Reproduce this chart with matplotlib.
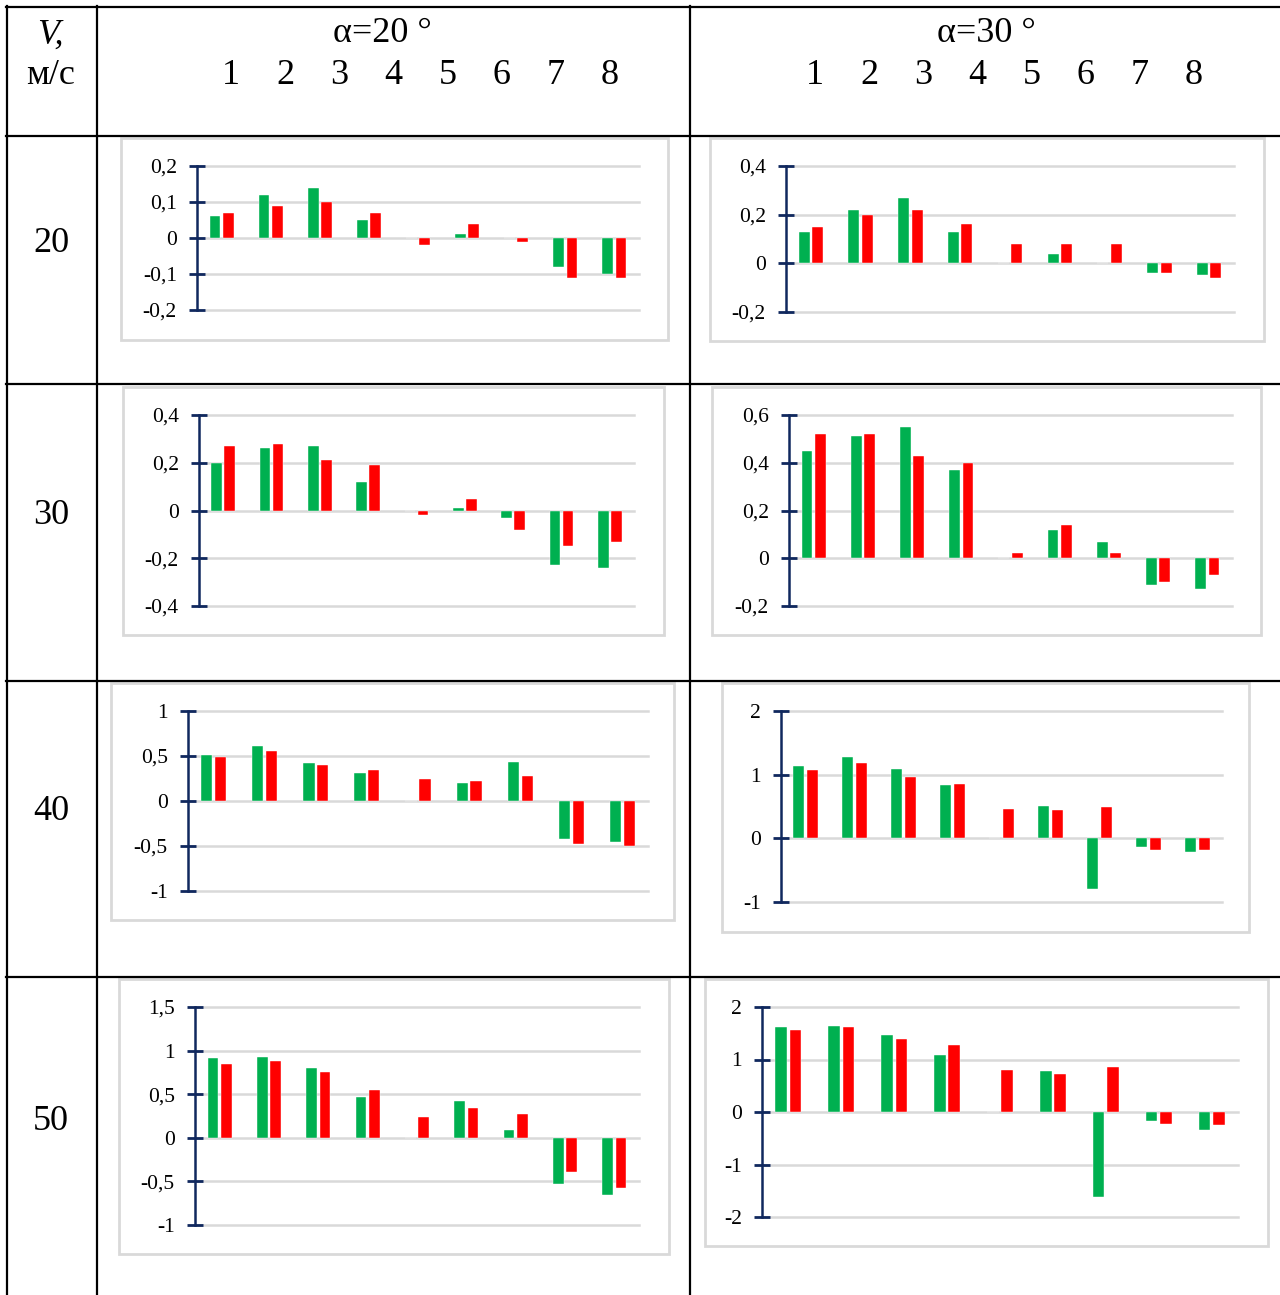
import matplotlib.pyplot as plt
from matplotlib.patches import Rectangle
from matplotlib.lines import Line2D
import numpy as np

plt.rcParams['font.family'] = ['Liberation Serif', 'DejaVu Serif']

W, H = 1280, 1295

# categories (9 bar groups in every small chart)
groups = np.arange(9)
header_nums = ['1', '2', '3', '4', '5', '6', '7', '8']
speeds = ['20', '30', '40', '50']
angles = ['α=20 °', 'α=30 °']

# values: green / red series per (speed, angle)
g_20_20 = [0.06, 0.12, 0.14, 0.05, 0.0, 0.01, 0.0, -0.08, -0.10]
r_20_20 = [0.07, 0.09, 0.10, 0.07, -0.02, 0.04, -0.01, -0.11, -0.11]
g_20_30 = [0.13, 0.22, 0.27, 0.13, 0.0, 0.04, 0.0, -0.04, -0.05]
r_20_30 = [0.15, 0.20, 0.22, 0.16, 0.08, 0.08, 0.08, -0.04, -0.06]
g_30_20 = [0.20, 0.26, 0.27, 0.12, 0.0, 0.01, -0.03, -0.23, -0.24]
r_30_20 = [0.27, 0.28, 0.21, 0.19, -0.02, 0.05, -0.08, -0.15, -0.13]
g_30_30 = [0.45, 0.51, 0.55, 0.37, 0.0, 0.12, 0.07, -0.11, -0.13]
r_30_30 = [0.52, 0.52, 0.43, 0.40, 0.02, 0.14, 0.02, -0.10, -0.07]
g_40_20 = [0.51, 0.61, 0.42, 0.31, 0.0, 0.20, 0.43, -0.42, -0.46]
r_40_20 = [0.49, 0.56, 0.40, 0.35, 0.25, 0.22, 0.28, -0.48, -0.50]
g_40_30 = [1.14, 1.28, 1.09, 0.83, 0.0, 0.50, -0.79, -0.14, -0.22]
r_40_30 = [1.07, 1.19, 0.96, 0.85, 0.46, 0.44, 0.49, -0.18, -0.19]
g_50_20 = [0.91, 0.93, 0.80, 0.47, 0.0, 0.42, 0.09, -0.53, -0.66]
r_50_20 = [0.85, 0.88, 0.75, 0.55, 0.24, 0.34, 0.27, -0.39, -0.57]
g_50_30 = [1.61, 1.64, 1.47, 1.09, 0.0, 0.78, -1.61, -0.17, -0.34]
r_50_30 = [1.57, 1.62, 1.39, 1.27, 0.80, 0.72, 0.85, -0.22, -0.25]

# y ticks per chart
yt_20_20 = [-0.2, -0.1, 0, 0.1, 0.2]
yt_20_30 = [-0.2, 0, 0.2, 0.4]
yt_30_20 = [-0.4, -0.2, 0, 0.2, 0.4]
yt_30_30 = [-0.2, 0, 0.2, 0.4, 0.6]
yt_40_20 = [-1, -0.5, 0, 0.5, 1]
yt_40_30 = [-1, 0, 1, 2]
yt_50_20 = [-1, -0.5, 0, 0.5, 1, 1.5]
yt_50_30 = [-2, -1, 0, 1, 2]

GREEN = '#00B050'
RED = '#FF0000'
NAVY = '#10285e'
GRID = '#d9d9d9'

# (green, red, ticks, plot box px [left, top, right, bottom], frame px)
charts = [
    (g_20_20, r_20_20, yt_20_20, (197, 166, 639, 310), (121, 138, 668, 340)),
    (g_20_30, r_20_30, yt_20_30, (786, 166, 1234, 312), (710, 138, 1264, 341)),
    (g_30_20, r_30_20, yt_30_20, (199, 415, 634, 606), (123, 387, 664, 635)),
    (g_30_30, r_30_30, yt_30_30, (789, 415, 1232, 606), (712, 387, 1261, 635)),
    (g_40_20, r_40_20, yt_40_20, (188, 711, 648, 891), (111, 683, 674, 920)),
    (g_40_30, r_40_30, yt_40_30, (781, 711, 1222, 902), (722, 683, 1249, 932)),
    (g_50_20, r_50_20, yt_50_20, (195, 1007, 639, 1225), (119, 979, 669, 1254)),
    (g_50_30, r_50_30, yt_50_30, (762, 1007, 1238, 1217), (705, 979, 1268, 1246)),
]

fig = plt.figure(figsize=(W / 100, H / 100), dpi=100)


def fx(x):
    return x / W


def fy(y):
    return 1 - y / H


# table grid
for y in [7, 136, 384, 681, 977]:
    fig.add_artist(Line2D([fx(6), fx(W)], [fy(y), fy(y)], color='black', lw=1.6))
for x in [7, 97, 690]:
    fig.add_artist(Line2D([fx(x), fx(x)], [fy(6), fy(H)], color='black', lw=1.6))

# header texts
fig.text(fx(50), fy(35), 'V,', fontsize=26, style='italic', ha='center', va='center')
fig.text(fx(51), fy(76), 'м/с', fontsize=26, ha='center', va='center')
for cx, lab in zip([382, 986], angles):
    fig.text(fx(cx), fy(34), lab, fontsize=26, ha='center', va='center')
for x0 in [231, 815]:
    for i, n in enumerate(header_nums):
        fig.text(fx(x0 + i * 54.1), fy(76), n, fontsize=26, ha='center', va='center')
for y, s in zip([244, 516, 811, 1121], speeds):
    fig.text(fx(51), fy(y), s, fontsize=26, ha='center', va='center')

for green, red, yt, box, frame in charts:
    l, t, r, b = frame
    fig.add_artist(Rectangle((fx(l), fy(b)), (r - l) / W, (b - t) / H,
                             transform=fig.transFigure, fill=False,
                             edgecolor=GRID, lw=2))
    l, t, r, b = box
    ax = fig.add_axes([fx(l), fy(b), (r - l) / W, (b - t) / H])
    ax.patch.set_alpha(0)
    for v in yt:
        ax.axhline(v, color=GRID, lw=1.8, zorder=0, clip_on=False)
    ax.bar(groups - 0.135, green, 0.22, color=GREEN, edgecolor='white', linewidth=0.3, zorder=3)
    ax.bar(groups + 0.135, red, 0.22, color=RED, edgecolor='white', linewidth=0.3, zorder=3)
    ax.set_xlim(-0.5, 8.5)
    ax.set_ylim(yt[0], yt[-1])
    ax.set_yticks(yt)
    ax.set_yticklabels([('%g' % v).replace('.', ',') for v in yt])
    ax.set_xticks([])
    for side in ['top', 'right', 'bottom']:
        ax.spines[side].set_visible(False)
    ax.spines['left'].set_color(NAVY)
    ax.spines['left'].set_linewidth(1.8)
    ax.spines['left'].set_zorder(5)
    ax.tick_params(axis='y', direction='inout', length=11, width=2, color=NAVY,
                   labelsize=15.5, pad=9)
    for tl in ax.yaxis.get_major_ticks():
        tl.tick1line.set_clip_on(False)

fig.savefig('out.png', dpi=100)
